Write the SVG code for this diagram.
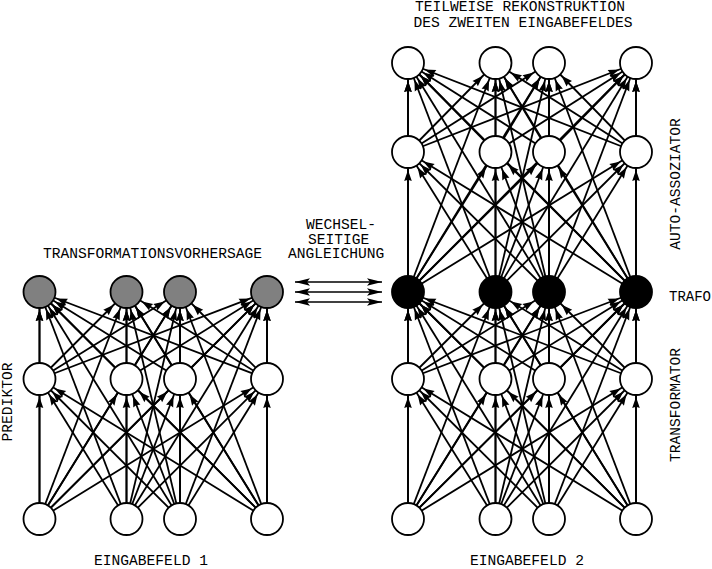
<svg xmlns="http://www.w3.org/2000/svg" width="712" height="569" viewBox="0 0 712 569">
<style>
.c line{stroke:#000;stroke-width:1.8;fill:none;marker-end:url(#a)}
.n circle{stroke:#000;stroke-width:1.8}
.w{fill:#fff}.g{fill:#808080}.b{fill:#000}
text{font-family:"Liberation Mono","Courier New",monospace;font-size:14.6px;fill:#000}
.m{text-anchor:middle}
.x line{stroke:#000;stroke-width:1.5;marker-start:url(#d);marker-end:url(#d)}
</style>
<defs>
<marker id="a" markerUnits="userSpaceOnUse" viewBox="0 -5 40 10" markerWidth="40" markerHeight="10" refX="40" refY="0" orient="auto">
<path d="M22,0 L11,-3.8 L12.2,0 L11,3.8 Z" fill="#000"/>
</marker>
<marker id="d" markerUnits="userSpaceOnUse" viewBox="0 -5 16 10" markerWidth="16" markerHeight="10" refX="15" refY="0" orient="auto-start-reverse">
<path d="M15,0 L0,-3.8 L3,0 L0,3.8 Z" fill="#000"/>
</marker>
</defs>

<g id="connectors" class="c">
<!-- left block: input -> predictor hidden -->
<line x1="39.5" y1="519" x2="39.5" y2="379"/>
<line x1="39.5" y1="519" x2="126.5" y2="379"/>
<line x1="39.5" y1="519" x2="180" y2="379"/>
<line x1="39.5" y1="519" x2="267" y2="379"/>
<line x1="126.5" y1="519" x2="39.5" y2="379"/>
<line x1="126.5" y1="519" x2="126.5" y2="379"/>
<line x1="126.5" y1="519" x2="180" y2="379"/>
<line x1="126.5" y1="519" x2="267" y2="379"/>
<line x1="180" y1="519" x2="39.5" y2="379"/>
<line x1="180" y1="519" x2="126.5" y2="379"/>
<line x1="180" y1="519" x2="180" y2="379"/>
<line x1="180" y1="519" x2="267" y2="379"/>
<line x1="267" y1="519" x2="39.5" y2="379"/>
<line x1="267" y1="519" x2="126.5" y2="379"/>
<line x1="267" y1="519" x2="180" y2="379"/>
<line x1="267" y1="519" x2="267" y2="379"/>
<!-- left block: hidden -> prediction -->
<line x1="39.5" y1="379" x2="39.5" y2="292"/>
<line x1="39.5" y1="379" x2="126.5" y2="292"/>
<line x1="39.5" y1="379" x2="180" y2="292"/>
<line x1="39.5" y1="379" x2="267" y2="292"/>
<line x1="126.5" y1="379" x2="39.5" y2="292"/>
<line x1="126.5" y1="379" x2="126.5" y2="292"/>
<line x1="126.5" y1="379" x2="180" y2="292"/>
<line x1="126.5" y1="379" x2="267" y2="292"/>
<line x1="180" y1="379" x2="39.5" y2="292"/>
<line x1="180" y1="379" x2="126.5" y2="292"/>
<line x1="180" y1="379" x2="180" y2="292"/>
<line x1="180" y1="379" x2="267" y2="292"/>
<line x1="267" y1="379" x2="39.5" y2="292"/>
<line x1="267" y1="379" x2="126.5" y2="292"/>
<line x1="267" y1="379" x2="180" y2="292"/>
<line x1="267" y1="379" x2="267" y2="292"/>
<!-- left block: input -> prediction (skip) -->
<line x1="39.5" y1="519" x2="39.5" y2="292"/>
<line x1="39.5" y1="519" x2="126.5" y2="292"/>
<line x1="39.5" y1="519" x2="180" y2="292"/>
<line x1="39.5" y1="519" x2="267" y2="292"/>
<line x1="126.5" y1="519" x2="39.5" y2="292"/>
<line x1="126.5" y1="519" x2="126.5" y2="292"/>
<line x1="126.5" y1="519" x2="180" y2="292"/>
<line x1="126.5" y1="519" x2="267" y2="292"/>
<line x1="180" y1="519" x2="39.5" y2="292"/>
<line x1="180" y1="519" x2="126.5" y2="292"/>
<line x1="180" y1="519" x2="180" y2="292"/>
<line x1="180" y1="519" x2="267" y2="292"/>
<line x1="267" y1="519" x2="39.5" y2="292"/>
<line x1="267" y1="519" x2="126.5" y2="292"/>
<line x1="267" y1="519" x2="180" y2="292"/>
<line x1="267" y1="519" x2="267" y2="292"/>

<!-- right lower block: input -> transformator -->
<line x1="408" y1="519" x2="408" y2="379"/>
<line x1="408" y1="519" x2="495.5" y2="379"/>
<line x1="408" y1="519" x2="549" y2="379"/>
<line x1="408" y1="519" x2="636" y2="379"/>
<line x1="495.5" y1="519" x2="408" y2="379"/>
<line x1="495.5" y1="519" x2="495.5" y2="379"/>
<line x1="495.5" y1="519" x2="549" y2="379"/>
<line x1="495.5" y1="519" x2="636" y2="379"/>
<line x1="549" y1="519" x2="408" y2="379"/>
<line x1="549" y1="519" x2="495.5" y2="379"/>
<line x1="549" y1="519" x2="549" y2="379"/>
<line x1="549" y1="519" x2="636" y2="379"/>
<line x1="636" y1="519" x2="408" y2="379"/>
<line x1="636" y1="519" x2="495.5" y2="379"/>
<line x1="636" y1="519" x2="549" y2="379"/>
<line x1="636" y1="519" x2="636" y2="379"/>
<!-- transformator -> trafo -->
<line x1="408" y1="379" x2="408" y2="292"/>
<line x1="408" y1="379" x2="495.5" y2="292"/>
<line x1="408" y1="379" x2="549" y2="292"/>
<line x1="408" y1="379" x2="636" y2="292"/>
<line x1="495.5" y1="379" x2="408" y2="292"/>
<line x1="495.5" y1="379" x2="495.5" y2="292"/>
<line x1="495.5" y1="379" x2="549" y2="292"/>
<line x1="495.5" y1="379" x2="636" y2="292"/>
<line x1="549" y1="379" x2="408" y2="292"/>
<line x1="549" y1="379" x2="495.5" y2="292"/>
<line x1="549" y1="379" x2="549" y2="292"/>
<line x1="549" y1="379" x2="636" y2="292"/>
<line x1="636" y1="379" x2="408" y2="292"/>
<line x1="636" y1="379" x2="495.5" y2="292"/>
<line x1="636" y1="379" x2="549" y2="292"/>
<line x1="636" y1="379" x2="636" y2="292"/>
<!-- input -> trafo (skip) -->
<line x1="408" y1="519" x2="408" y2="292"/>
<line x1="408" y1="519" x2="495.5" y2="292"/>
<line x1="408" y1="519" x2="549" y2="292"/>
<line x1="408" y1="519" x2="636" y2="292"/>
<line x1="495.5" y1="519" x2="408" y2="292"/>
<line x1="495.5" y1="519" x2="495.5" y2="292"/>
<line x1="495.5" y1="519" x2="549" y2="292"/>
<line x1="495.5" y1="519" x2="636" y2="292"/>
<line x1="549" y1="519" x2="408" y2="292"/>
<line x1="549" y1="519" x2="495.5" y2="292"/>
<line x1="549" y1="519" x2="549" y2="292"/>
<line x1="549" y1="519" x2="636" y2="292"/>
<line x1="636" y1="519" x2="408" y2="292"/>
<line x1="636" y1="519" x2="495.5" y2="292"/>
<line x1="636" y1="519" x2="549" y2="292"/>
<line x1="636" y1="519" x2="636" y2="292"/>

<!-- right upper block: trafo -> auto-assoc hidden -->
<line x1="408" y1="292" x2="408" y2="152"/>
<line x1="408" y1="292" x2="495.5" y2="152"/>
<line x1="408" y1="292" x2="549" y2="152"/>
<line x1="408" y1="292" x2="636" y2="152"/>
<line x1="495.5" y1="292" x2="408" y2="152"/>
<line x1="495.5" y1="292" x2="495.5" y2="152"/>
<line x1="495.5" y1="292" x2="549" y2="152"/>
<line x1="495.5" y1="292" x2="636" y2="152"/>
<line x1="549" y1="292" x2="408" y2="152"/>
<line x1="549" y1="292" x2="495.5" y2="152"/>
<line x1="549" y1="292" x2="549" y2="152"/>
<line x1="549" y1="292" x2="636" y2="152"/>
<line x1="636" y1="292" x2="408" y2="152"/>
<line x1="636" y1="292" x2="495.5" y2="152"/>
<line x1="636" y1="292" x2="549" y2="152"/>
<line x1="636" y1="292" x2="636" y2="152"/>
<!-- hidden -> reconstruction -->
<line x1="408" y1="152" x2="408" y2="63"/>
<line x1="408" y1="152" x2="495.5" y2="63"/>
<line x1="408" y1="152" x2="549" y2="63"/>
<line x1="408" y1="152" x2="636" y2="63"/>
<line x1="495.5" y1="152" x2="408" y2="63"/>
<line x1="495.5" y1="152" x2="495.5" y2="63"/>
<line x1="495.5" y1="152" x2="549" y2="63"/>
<line x1="495.5" y1="152" x2="636" y2="63"/>
<line x1="549" y1="152" x2="408" y2="63"/>
<line x1="549" y1="152" x2="495.5" y2="63"/>
<line x1="549" y1="152" x2="549" y2="63"/>
<line x1="549" y1="152" x2="636" y2="63"/>
<line x1="636" y1="152" x2="408" y2="63"/>
<line x1="636" y1="152" x2="495.5" y2="63"/>
<line x1="636" y1="152" x2="549" y2="63"/>
<line x1="636" y1="152" x2="636" y2="63"/>
<!-- trafo -> reconstruction (skip) -->
<line x1="408" y1="292" x2="408" y2="63"/>
<line x1="408" y1="292" x2="495.5" y2="63"/>
<line x1="408" y1="292" x2="549" y2="63"/>
<line x1="408" y1="292" x2="636" y2="63"/>
<line x1="495.5" y1="292" x2="408" y2="63"/>
<line x1="495.5" y1="292" x2="495.5" y2="63"/>
<line x1="495.5" y1="292" x2="549" y2="63"/>
<line x1="495.5" y1="292" x2="636" y2="63"/>
<line x1="549" y1="292" x2="408" y2="63"/>
<line x1="549" y1="292" x2="495.5" y2="63"/>
<line x1="549" y1="292" x2="549" y2="63"/>
<line x1="549" y1="292" x2="636" y2="63"/>
<line x1="636" y1="292" x2="408" y2="63"/>
<line x1="636" y1="292" x2="495.5" y2="63"/>
<line x1="636" y1="292" x2="549" y2="63"/>
<line x1="636" y1="292" x2="636" y2="63"/>
</g>

<g id="angleichung" class="x">
<line x1="295" y1="282" x2="382" y2="282"/>
<line x1="295" y1="292" x2="382" y2="292"/>
<line x1="295" y1="302" x2="382" y2="302"/>
</g>

<g id="nodes" class="n">
<g id="eingabe1">
<circle class="w" cx="39.5" cy="519" r="16"/>
<circle class="w" cx="126.5" cy="519" r="16"/>
<circle class="w" cx="180" cy="519" r="16"/>
<circle class="w" cx="267" cy="519" r="16"/>
</g>
<g id="praediktor">
<circle class="w" cx="39.5" cy="379" r="16"/>
<circle class="w" cx="126.5" cy="379" r="16"/>
<circle class="w" cx="180" cy="379" r="16"/>
<circle class="w" cx="267" cy="379" r="16"/>
</g>
<g id="vorhersage">
<circle class="g" cx="39.5" cy="292" r="16"/>
<circle class="g" cx="126.5" cy="292" r="16"/>
<circle class="g" cx="180" cy="292" r="16"/>
<circle class="g" cx="267" cy="292" r="16"/>
</g>
<g id="eingabe2">
<circle class="w" cx="408" cy="519" r="16"/>
<circle class="w" cx="495.5" cy="519" r="16"/>
<circle class="w" cx="549" cy="519" r="16"/>
<circle class="w" cx="636" cy="519" r="16"/>
</g>
<g id="transformator">
<circle class="w" cx="408" cy="379" r="16"/>
<circle class="w" cx="495.5" cy="379" r="16"/>
<circle class="w" cx="549" cy="379" r="16"/>
<circle class="w" cx="636" cy="379" r="16"/>
</g>
<g id="trafo">
<circle class="b" cx="408" cy="292" r="16"/>
<circle class="b" cx="495.5" cy="292" r="16"/>
<circle class="b" cx="549" cy="292" r="16"/>
<circle class="b" cx="636" cy="292" r="16"/>
</g>
<g id="autoassoziator">
<circle class="w" cx="408" cy="152" r="16"/>
<circle class="w" cx="495.5" cy="152" r="16"/>
<circle class="w" cx="549" cy="152" r="16"/>
<circle class="w" cx="636" cy="152" r="16"/>
</g>
<g id="rekonstruktion">
<circle class="w" cx="408" cy="63" r="16"/>
<circle class="w" cx="495.5" cy="63" r="16"/>
<circle class="w" cx="549" cy="63" r="16"/>
<circle class="w" cx="636" cy="63" r="16"/>
</g>
</g>

<g id="labels">
<text class="m" x="520" y="10.5">TEILWEISE REKONSTRUKTION</text>
<text class="m" x="523" y="27">DES ZWEITEN EINGABEFELDES</text>
<text class="m" x="152.5" y="258">TRANSFORMATIONSVORHERSAGE</text>
<text x="306" y="229">WECHSEL-</text>
<text x="308" y="243.5">SEITIGE</text>
<text x="288" y="258">ANGLEICHUNG</text>
<text x="669" y="301" style="font-size:14px">TRAFO</text>
<text class="m" transform="translate(680,184) rotate(-90)">AUTO-ASSOZIATOR</text>
<text class="m" transform="translate(680,405) rotate(-90)">TRANSFORMATOR</text>
<text class="m" transform="translate(12,402) rotate(-90)">PREDIKTOR</text>
<text class="m" x="151" y="565">EINGABEFELD 1</text>
<text class="m" x="527" y="565">EINGABEFELD 2</text>
</g>
</svg>
